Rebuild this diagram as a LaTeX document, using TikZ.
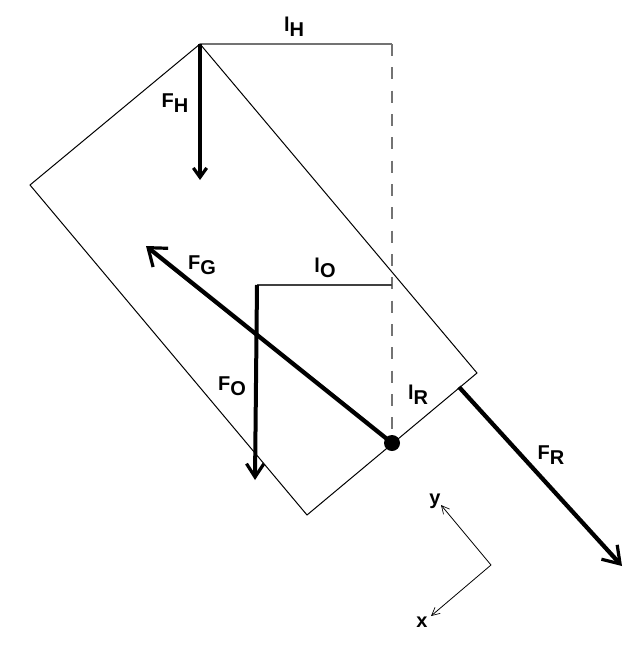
\documentclass[tikz,border=0pt]{standalone}
\usepackage{fontspec}
\setmainfont{Liberation Sans}
\usetikzlibrary{arrows.meta}
\newcommand{\lbl}[2]{\textbf{#1\raisebox{-4pt}{#2}}}
\newcommand{\headstyle}[2]{-{Straight Barb[length=#1,width=#2,line width=2.4pt]}}
\tikzset{
  thin line/.style={line width=0.75pt,black},
  gray line/.style={line width=0.9pt,black!55},
  force/.style={line width=3.2pt,black},
  small force/.style={line width=3pt,black},
  axis/.style={line width=0.6pt,black,-{Straight Barb[length=6pt,width=6pt,line width=0.5pt]}},
  tag/.style={font=\fontsize{15}{15}\selectfont,inner sep=0pt,text=black},
}
\begin{document}
\begin{tikzpicture}[x=0.75pt,y=-0.75pt]
\useasboundingbox (0,0) rectangle (637,646);
\fill[white] (0,0) rectangle (637,646);
\coordinate (top) at (200,44);
\coordinate (left) at (30,185);
\coordinate (bottom) at (307,515);
\coordinate (right) at (477,373);
\coordinate (hend) at (392,44);
\coordinate (pivot) at (392,443);
\coordinate (oright) at (392,285);
\coordinate (ostart) at (257,285);
\coordinate (fhend) at (200,180);
\coordinate (foend) at (255,480);
\coordinate (fgend) at (146,246);
\coordinate (frstart) at (459,387);
\coordinate (frend) at (622,566);
\coordinate (axo) at (491,565);
\coordinate (axy) at (441,505);
\coordinate (axx) at (431,616);
\draw[thin line] (top) -- (left) -- (bottom) -- (right) -- cycle;
\draw[gray line] (top) -- (hend);
\draw[gray line,dash pattern=on 9pt off 8.5pt] (hend) -- (pivot);
\draw[line width=1pt,black!75] (ostart) -- (oright);
\draw[small force,-{Straight Barb[length=7pt,width=10pt,line width=2.4pt]}] (top) -- (fhend);
\draw[small force,-{Straight Barb[length=10pt,width=13pt,line width=2.4pt]}] (ostart) -- (foend);
\draw[force,-{Straight Barb[length=12pt,width=18pt,line width=2.4pt]}] (pivot) -- (fgend);
\draw[force,-{Straight Barb[length=12pt,width=16pt,line width=2.4pt]}] (frstart) -- (frend);
\node[circle,fill=black,minimum size=12pt,inner sep=0pt] (dot) at (pivot) {};
\draw[axis] (axo) -- (axy);
\draw[axis] (axo) -- (axx);
\node[tag] (lH) at (294,27) {\lbl{l}{H}};
\node[tag] (FH) at (175,103) {\lbl{F}{H}};
\node[tag] (FG) at (202,265) {\lbl{F}{G}};
\node[tag] (lO) at (325,268) {\lbl{l}{O}};
\node[tag] (FO) at (232,386) {\lbl{F}{O}};
\node[tag] (lR) at (418,395) {\lbl{l}{R}};
\node[tag] (FR) at (551,455) {\lbl{F}{R}};
\node[tag] (y) at (435,501) {\textbf{y}};
\node[tag] (x) at (422,622) {\textbf{x}};
\end{tikzpicture}
\end{document}
